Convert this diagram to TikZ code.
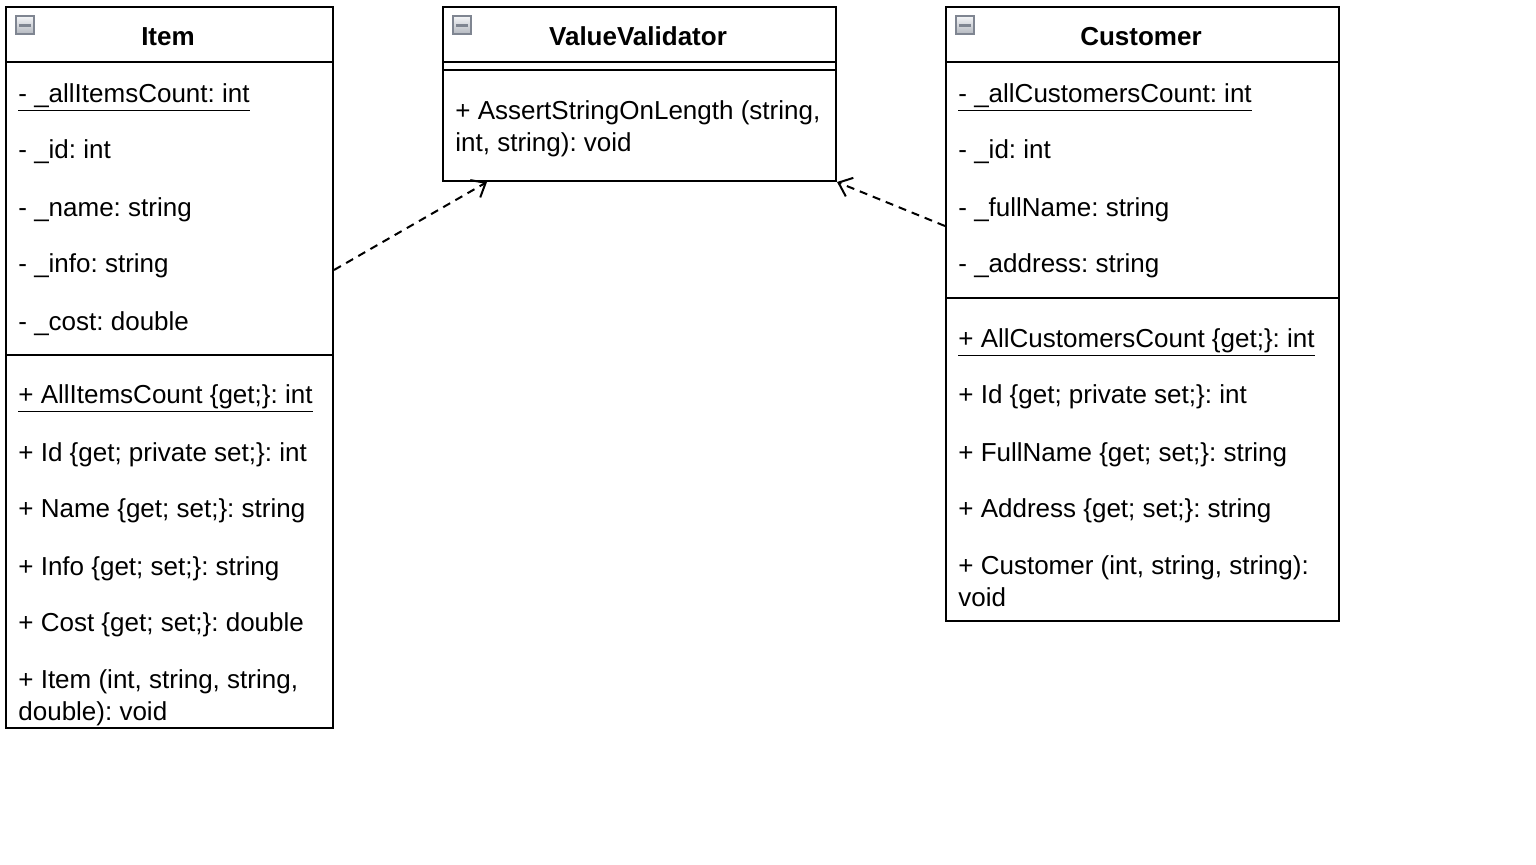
\documentclass[tikz,border=0pt]{standalone}
\usepackage{fontspec}
\setmainfont{Liberation Sans}
\usepackage{tikz}
\usetikzlibrary{arrows.meta, positioning, calc}
\definecolor{IconEdge}{HTML}{7F8591}
\definecolor{IconTop}{HTML}{F4F5F7}
\definecolor{IconBottom}{HTML}{B4B8C0}
\newcommand{\umlfont}{\fontsize{13}{16}\selectfont\frenchspacing}

\begin{document}
\begin{tikzpicture}[x=0.5pt, y=-0.5pt,
    classbox/.style={draw, line width=1pt, anchor=north west, inner sep=0pt},
    classname/.style={anchor=base, inner sep=0pt, font=\umlfont\bfseries},
    member/.style={anchor=base west, inner sep=0pt, font=\umlfont, align=left},
    collapser/.style={draw=IconEdge, line width=0.6pt, top color=IconTop, bottom color=IconBottom,
                      minimum size=9pt, inner sep=0pt,
                      path picture={\draw[line width=1.5pt] ([xshift=-3.1pt]path picture bounding box.center)
                                    -- ([xshift=3.1pt]path picture bounding box.center);}},
    dependency/.style={line width=1pt, dash pattern=on 4pt off 3pt,
                       -{Straight Barb[length=6pt,width=10pt]}}]
    \useasboundingbox (0,0) rectangle (1536,864);

    % Item
    \node[classbox, minimum width=163.5pt, minimum height=360.5pt] (item) at (5,6) {};
    \draw[line width=1pt] (5,62) -- (332,62);
    \draw[line width=1pt] (5,355) -- (332,355);
    \node[collapser] (itemicon) at (25,25) {};
    \node[classname] (itemname) at (168,45) {Item};
    \node[member] (itema1) at (18,102) {\underline{- \_allItemsCount: int}};
    \node[member] (itema2) at (18,158) {- \_id: int};
    \node[member] (itema3) at (18,216) {- \_name: string};
    \node[member] (itema4) at (18,272) {- \_info: string};
    \node[member] (itema5) at (18,330) {- \_cost: double};
    \node[member] (itemm1) at (18,403) {\underline{+ AllItemsCount \{get;\}: int}};
    \node[member] (itemm2) at (18,461) {+ Id \{get; private set;\}: int};
    \node[member] (itemm3) at (18,517) {+ Name \{get; set;\}: string};
    \node[member] (itemm4) at (18,575) {+ Info \{get; set;\}: string};
    \node[member] (itemm5) at (18,631) {+ Cost \{get; set;\}: double};
    \node[member] (itemm6) at (18,720) {+ Item (int, string, string,\\double): void};

    % ValueValidator
    \node[classbox, minimum width=196.5pt, minimum height=87pt] (vv) at (442,6) {};
    \draw[line width=1pt] (442,62) -- (835,62);
    \draw[line width=1pt] (442,70) -- (835,70);
    \node[collapser] (vvicon) at (462,25) {};
    \node[classname] (vvname) at (638,45) {ValueValidator};
    \node[member] (vvm1) at (455,151) {+ AssertStringOnLength (string,\\int, string): void};

    % Customer
    \node[classbox, minimum width=196.5pt, minimum height=307pt] (cust) at (945,6) {};
    \draw[line width=1pt] (945,62) -- (1338,62);
    \draw[line width=1pt] (945,298) -- (1338,298);
    \node[collapser] (custicon) at (965,25) {};
    \node[classname] (custname) at (1141,45) {Customer};
    \node[member] (custa1) at (958,102) {\underline{- \_allCustomersCount: int}};
    \node[member] (custa2) at (958,158) {- \_id: int};
    \node[member] (custa3) at (958,216) {- \_fullName: string};
    \node[member] (custa4) at (958,272) {- \_address: string};
    \node[member] (custm1) at (958,347) {\underline{+ AllCustomersCount \{get;\}: int}};
    \node[member] (custm2) at (958,403) {+ Id \{get; private set;\}: int};
    \node[member] (custm3) at (958,461) {+ FullName \{get; set;\}: string};
    \node[member] (custm4) at (958,517) {+ Address \{get; set;\}: string};
    \node[member] (custm5) at (958,606) {+ Customer (int, string, string):\\void};

    % dependencies
    \draw[dependency] ($(item.north east)+(0,264)$) -- ($(vv.south west)+(45,0)$);
    \draw[dependency] ($(cust.north west)+(0,220)$) -- (vv.south east);
\end{tikzpicture}
\end{document}
